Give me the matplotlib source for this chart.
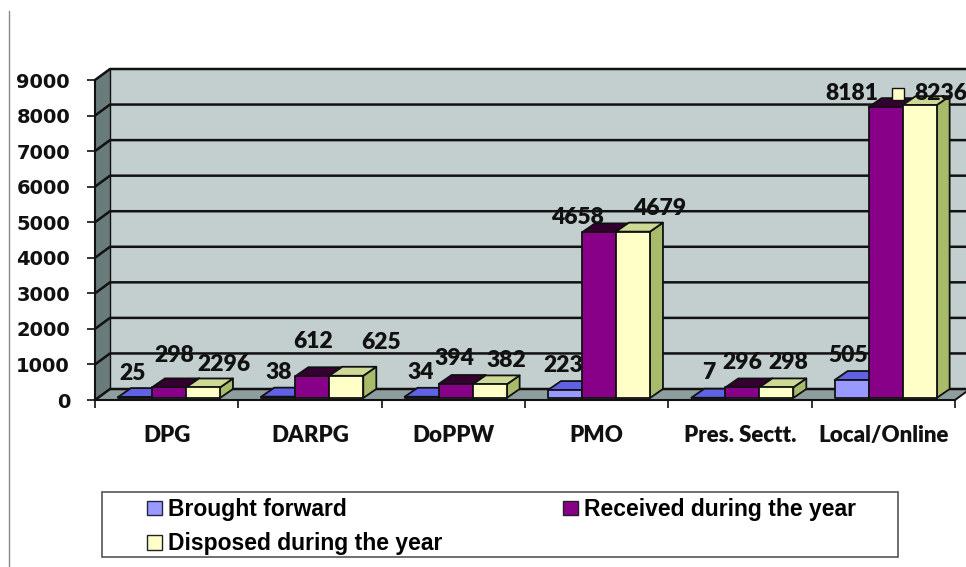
import matplotlib
matplotlib.use("Agg")
import matplotlib.pyplot as plt
from matplotlib.patches import Polygon, Rectangle, Patch
from matplotlib.lines import Line2D
from matplotlib.transforms import offset_copy

# ---- data -------------------------------------------------------------
categories = ["DPG", "DARPG", "DoPPW", "PMO", "Pres. Sectt.", "Local/Online"]
brought_forward = [25, 38, 34, 223, 7, 505]
received = [298, 612, 394, 4658, 296, 8181]
disposed = [296, 625, 382, 4679, 298, 8236]
brought_labels = ["25", "38", "34", "223", "7", "505"]
received_labels = ["298", "612", "394", "4658", "296", "8181"]
disposed_labels = ["2296", "625", "382", "4679", "298", "8236"]
series_names = ["Brought forward", "Received during the year",
                "Disposed during the year"]
y_ticks = [0, 1000, 2000, 3000, 4000, 5000, 6000, 7000, 8000, 9000]

# ---- label placement (pixels: horizontal nudge, rise above bar top) ----
label_dx = [[-2, 0, -1, -2, 0, -3],
            [5, 1, -1, -21, 0, -34],
            [21, 35, 17, 27, 12, 21]]
label_rise = [[24, 24, 24, 25, 25, 25],
              [32, 35, 25, 15, 25, 14],
              [23, 33, 24, 23, 25, 12]]

# ---- styling ----------------------------------------------------------
front_col = ["#9999ff", "#880088", "#ffffc8"]
top_col = ["#6161e6", "#330030", "#cdd995"]
side_col = ["#7070cc", "#5a005a", "#a8bb6a"]
wall_col = "#c3cfcf"
left_wall_col = "#6a7b7b"
floor_col = "#8e9e9e"
edge = "#111111"
LABEL_FONT = dict(fontfamily="Lato", fontweight="heavy")

W, H, DPI = 966, 567, 100
fig = plt.figure(figsize=(W / DPI, H / DPI), dpi=DPI)
fig.patch.set_facecolor("white")

# front plane of the plot area, in pixels: x 95..955, y 400 (zero) .. 80 (9000)
AX_L, AX_R, AX_B, AX_T = 95, 955, 400, 80
ax = fig.add_axes([AX_L / W, (H - AX_B) / H, (AX_R - AX_L) / W, (AX_B - AX_T) / H])
ax.set_xlim(-0.5, len(categories) - 0.5)
ax.set_ylim(0, 9000)
ax.patch.set_visible(False)

sx = (len(categories)) / (AX_R - AX_L)      # category units per pixel
sy = 9000 / (AX_B - AX_T)                   # value units per pixel


def off(x, y, dxp, dyp):
    return (x + dxp * sx, y + dyp * sy)


# depth geometry (pixels)
FLOOR_DX, FLOOR_DY = 15, 11
BAR_OX, BAR_OY = 2.3, 2
BAR_DX, BAR_DY = 13, 9

x0, x1 = -0.5, len(categories) - 0.5
ymax = y_ticks[-1]

# walls and floor
ax.add_patch(Polygon([off(x0, 0, FLOOR_DX, FLOOR_DY), off(x1, 0, FLOOR_DX, FLOOR_DY),
                      off(x1, ymax, FLOOR_DX, FLOOR_DY), off(x0, ymax, FLOOR_DX, FLOOR_DY)],
                     closed=True, facecolor=wall_col, edgecolor="none", clip_on=False, zorder=1))
ax.add_patch(Polygon([(x0, 0), (x0, ymax), off(x0, ymax, FLOOR_DX, FLOOR_DY),
                      off(x0, 0, FLOOR_DX, FLOOR_DY)],
                     closed=True, facecolor=left_wall_col, edgecolor="none", clip_on=False, zorder=1))
ax.add_patch(Polygon([(x0, 0), (x1, 0), off(x1, 0, FLOOR_DX, FLOOR_DY),
                      off(x0, 0, FLOOR_DX, FLOOR_DY)],
                     closed=True, facecolor=floor_col, edgecolor="none", clip_on=False, zorder=1))

# gridlines across the left wall and the back wall
for t in y_ticks:
    pts = [(x0, t), off(x0, t, FLOOR_DX, FLOOR_DY), off(x1, t, FLOOR_DX, FLOOR_DY)]
    ax.plot([p[0] for p in pts], [p[1] for p in pts], color=edge, lw=1.8,
            clip_on=False, zorder=2, solid_capstyle="butt")
# back edge of the left wall and right edge of the floor
p, q = off(x0, 0, FLOOR_DX, FLOOR_DY), off(x0, ymax, FLOOR_DX, FLOOR_DY)
ax.plot([p[0], q[0]], [p[1], q[1]], color=edge, lw=1.0, clip_on=False, zorder=2)
p = off(x1, 0, FLOOR_DX, FLOOR_DY)
ax.plot([x1, p[0]], [0, p[1]], color=edge, lw=1.4, clip_on=False, zorder=2)

# 3-D columns
w = 34 * sx
series = [brought_forward, received, disposed]
texts = [brought_labels, received_labels, disposed_labels]
for i in range(len(categories)):
    for j, vals in enumerate(series):
        v = vals[i]
        left = i - 1.5 * w + j * w
        right = left + w
        ox, oy = BAR_OX, BAR_OY
        bx, by = BAR_OX + BAR_DX, BAR_OY + BAR_DY
        z = 3 + i * 0.1 + j * 0.01
        side = [off(right, 0, ox, oy), off(right, 0, bx, by),
                off(right, v, bx, by), off(right, v, ox, oy)]
        top = [off(left, v, ox, oy), off(right, v, ox, oy),
               off(right, v, bx, by), off(left, v, bx, by)]
        front = [off(left, 0, ox, oy), off(right, 0, ox, oy),
                 off(right, v, ox, oy), off(left, v, ox, oy)]
        for poly, col in ((side, side_col[j]), (top, top_col[j]), (front, front_col[j])):
            ax.add_patch(Polygon(poly, closed=True, facecolor=col, edgecolor=edge,
                                 lw=1.3, joinstyle="round", clip_on=False, zorder=z))

# value labels
for j, vals in enumerate(series):
    for i, v in enumerate(vals):
        cx = i - 1.5 * w + j * w + w / 2
        tr = offset_copy(ax.transData, fig=fig, x=BAR_OX + label_dx[j][i],
                         y=BAR_OY + label_rise[j][i], units="dots")
        ax.text(cx, v, texts[j][i], transform=tr, ha="center", va="center",
                fontsize=16.5, color="#111111", zorder=10, clip_on=False, **LABEL_FONT)

# small legend key sitting beside the top value labels
i_last = len(categories) - 1
cx = i_last - 1.5 * w + 2 * w + w / 2
tr = offset_copy(ax.transData, fig=fig, x=BAR_OX - 22, y=BAR_OY + 11, units="dots")
ax.plot([cx], [disposed[i_last]], marker="s", markersize=8, markerfacecolor=front_col[2],
        markeredgecolor=edge, markeredgewidth=1.0, transform=tr, clip_on=False, zorder=11)

# axes, ticks and tick labels
for s in ("top", "right"):
    ax.spines[s].set_visible(False)
for s in ("left", "bottom"):
    ax.spines[s].set_color(edge)
    ax.spines[s].set_linewidth(1.5)
    ax.spines[s].set_zorder(2.5)

ax.set_yticks(y_ticks)
ax.set_yticklabels([str(t) for t in y_ticks], fontfamily="DejaVu Sans",
                   fontweight="bold", fontsize=14)
ax.tick_params(axis="y", direction="out", length=6, width=1.2, pad=12, colors=edge)

ax.set_xticks([k - 0.5 for k in range(len(categories) + 1)])
ax.set_xticklabels([])
ax.tick_params(axis="x", which="major", direction="out", length=6, width=1.2, colors=edge)
ax.set_xticks(range(len(categories)), minor=True)
ax.set_xticklabels(categories, minor=True, fontsize=16, color="#111111", **LABEL_FONT)
ax.tick_params(axis="x", which="minor", length=0, pad=18)

# legend
box = Rectangle((102 / W, (H - 557) / H), 796 / W, 65 / H, transform=fig.transFigure,
                facecolor="white", edgecolor="#555555", lw=1.2, zorder=0)
fig.add_artist(box)
handles = [Patch(facecolor=front_col[0], edgecolor="#222244", lw=1.0),
           Patch(facecolor=front_col[2], edgecolor="#222222", lw=1.0),
           Patch(facecolor=front_col[1], edgecolor="#222222", lw=1.0)]
labels = [series_names[0], series_names[2], series_names[1]]
fig.legend(handles, labels, ncol=2, loc="upper left",
           bbox_to_anchor=(147 / W, (H - 498) / H), frameon=False,
           prop={"family": ["Liberation Sans", "DejaVu Sans"], "weight": "bold", "size": 16.5},
           handlelength=0.65, handleheight=0.6, handletextpad=0.25,
           columnspacing=5.3, labelspacing=0.5, borderpad=0, borderaxespad=0)

# outer frame line on the left
fig.add_artist(Line2D([9 / W, 9 / W], [0, 1 - 11 / H], transform=fig.transFigure,
                      color="#8a8a8a", lw=1.0))

fig.savefig("out.png", dpi=DPI)
